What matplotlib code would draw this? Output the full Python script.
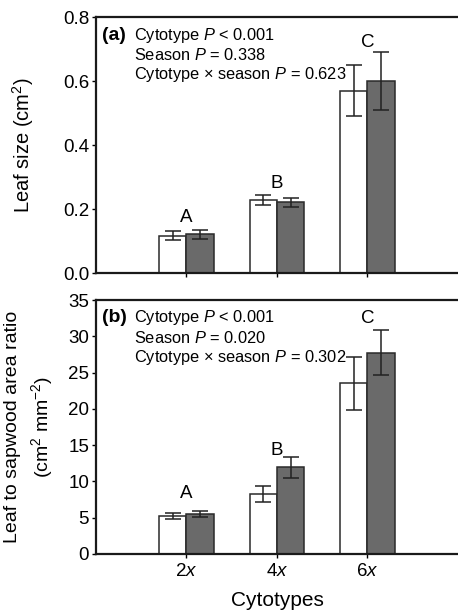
import matplotlib
matplotlib.use("Agg")
import matplotlib.pyplot as plt
import numpy as np

plt.rcParams['font.family'] = ['Liberation Sans', 'DejaVu Sans']
plt.rcParams['mathtext.fontset'] = 'custom'
plt.rcParams['mathtext.rm'] = 'Liberation Sans'
plt.rcParams['mathtext.it'] = 'Liberation Sans:italic'
plt.rcParams['mathtext.bf'] = 'Liberation Sans:bold'

cytotypes = ['2$\\it{x}$', '4$\\it{x}$', '6$\\it{x}$']
group_letters = ['A', 'B', 'C']

leaf_white = [0.117, 0.228, 0.570]
leaf_white_err = [0.014, 0.016, 0.080]
leaf_grey = [0.121, 0.221, 0.600]
leaf_grey_err = [0.013, 0.014, 0.091]
leaf_letter_y = [0.159, 0.266, 0.706]

ratio_white = [5.18, 8.29, 23.5]
ratio_white_err = [0.41, 1.12, 3.6]
ratio_grey = [5.54, 11.96, 27.76]
ratio_grey_err = [0.44, 1.44, 3.16]
ratio_letter_y = [7.74, 13.66, 31.8]

stats_a = ['Cytotype $P$ < 0.001', 'Season $P$ = 0.338', 'Cytotype \u00d7 season $P$ = 0.623']
stats_b = ['Cytotype $P$ < 0.001', 'Season $P$ = 0.020', 'Cytotype \u00d7 season $P$ = 0.302']

fig = plt.figure(figsize=(4.58, 6.11), dpi=100)
ax1 = fig.add_axes([0.2096, 0.553, 0.7904, 0.419])
ax2 = fig.add_axes([0.2096, 0.0933, 0.7904, 0.4157])

x = np.arange(1, 4)
w = 0.30
grey = '#6a6a6a'
edge = '#2a2a2a'

def draw(ax, wv, we, gv, ge, ly, ymax, yticks, ylabels, panel, stats):
    ax.bar(x - w/2, wv, w, color='white', edgecolor=edge, linewidth=1.1, zorder=2)
    ax.bar(x + w/2, gv, w, color=grey, edgecolor=edge, linewidth=1.1, zorder=2)
    ax.errorbar(x - w/2, wv, yerr=we, fmt='none', ecolor='#222222', elinewidth=1.1, capsize=6, capthick=1.1, zorder=3)
    ax.errorbar(x + w/2, gv, yerr=ge, fmt='none', ecolor='#222222', elinewidth=1.1, capsize=6, capthick=1.1, zorder=3)
    for i in range(3):
        ax.text(x[i], ly[i], group_letters[i], ha='center', va='baseline', fontsize=13.5)
    ax.set_xlim(0, 4)
    ax.set_ylim(0, ymax)
    ax.set_yticks(yticks)
    ax.set_yticklabels(ylabels, fontsize=13.5)
    ax.spines['right'].set_visible(False)
    for s in ['left', 'bottom', 'top']:
        ax.spines[s].set_linewidth(1.6)
        ax.spines[s].set_color('#1a1a1a')
    ax.tick_params(axis='y', direction='out', length=3, width=1, pad=2)
    ax.tick_params(axis='x', direction='out', length=3, width=1)
    ax.text(0.016, 0.93, panel, transform=ax.transAxes, fontsize=14, fontweight='bold', va='center', ha='left')
    for j, s in enumerate(stats):
        ax.text(0.105, 0.93 - j*0.078, s, transform=ax.transAxes, fontsize=11.8, va='center', ha='left')

draw(ax1, leaf_white, leaf_white_err, leaf_grey, leaf_grey_err, leaf_letter_y, 0.8,
     [0, 0.2, 0.4, 0.6, 0.8], ['0.0', '0.2', '0.4', '0.6', '0.8'], '(a)', stats_a)
ax1.set_xticks(x)
ax1.set_xticklabels([])
ax1.set_ylabel('Leaf size (cm$^2$)', fontsize=14.5)
ax1.yaxis.set_label_coords(-0.167, 0.5)

draw(ax2, ratio_white, ratio_white_err, ratio_grey, ratio_grey_err, ratio_letter_y, 35,
     [0, 5, 10, 15, 20, 25, 30, 35], ['0', '5', '10', '15', '20', '25', '30', '35'], '(b)', stats_b)
ax2.set_xticks(x)
ax2.set_xticklabels(cytotypes, fontsize=13.5)
ax2.set_xlabel('Cytotypes', fontsize=15, labelpad=8)
ax2.set_ylabel('Leaf to sapwood area ratio\n(cm$^2$ mm$^{-2}$)', fontsize=14, linespacing=1.45)
ax2.yaxis.set_label_coords(-0.113, 0.5)

fig.savefig('out.png', dpi=100)
